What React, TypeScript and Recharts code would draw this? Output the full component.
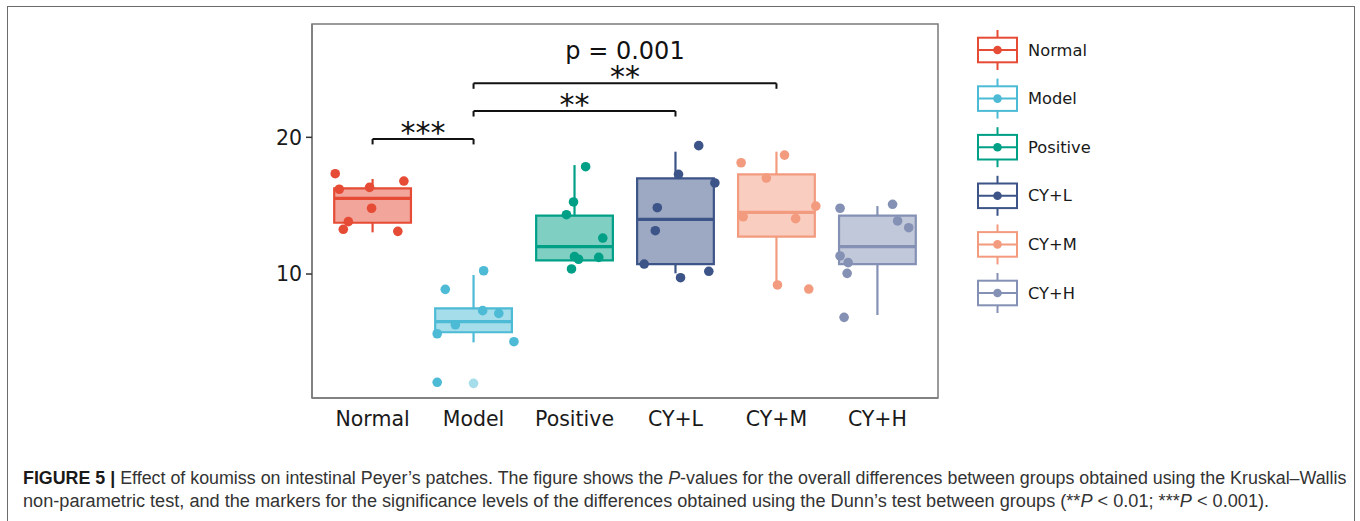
import React, { useLayoutEffect, useRef, useState } from 'react';
import { ComposedChart, XAxis, YAxis, Scatter, ReferenceArea, ReferenceLine, ReferenceDot } from 'recharts';

// ---------- data ----------
const groups = ['Normal', 'Model', 'Positive', 'CY+L', 'CY+M', 'CY+H'];
const colors = ['#E64B35', '#4DBBD5', '#00A087', '#3C5488', '#F39B7F', '#8491B4'];

const whiskerLow = [13.05, 5.0, 11.0, 10.05, 9.2, 7.0];
const q1 = [13.75, 5.74, 11.0, 10.73, 12.73, 10.73];
const medians = [15.54, 6.51, 12.0, 14.0, 14.51, 12.0];
const q3 = [16.27, 7.49, 14.27, 17.0, 17.29, 14.27];
const whiskerHigh = [16.95, 9.93, 17.97, 18.95, 18.95, 14.97];

const normalValues = [17.34, 16.2, 13.83, 13.27, 16.34, 14.81, 16.8, 13.12];
const modelValues = [10.24, 8.88, 7.32, 7.12, 6.29, 5.63, 5.05, 2.08];
const positiveValues = [17.85, 15.27, 14.34, 12.63, 11.27, 11.08, 11.22, 10.37];
const cylValues = [19.39, 17.29, 16.66, 14.85, 13.17, 10.73, 9.73, 10.2];
const cymValues = [18.14, 18.7, 17.02, 14.97, 14.19, 14.05, 9.2, 8.9];
const cyhValues = [14.81, 15.1, 13.88, 13.39, 11.32, 10.83, 10.05, 6.83];

const normalJitter = [-0.37, -0.33, -0.24, -0.29, -0.03, -0.01, 0.31, 0.25];
const modelJitter = [0.1, -0.28, 0.09, 0.25, -0.18, -0.36, 0.4, -0.36];
const positiveJitter = [0.11, -0.01, -0.08, 0.28, 0.0, 0.04, 0.24, -0.03];
const cylJitter = [0.23, 0.03, 0.39, -0.18, -0.2, -0.31, 0.05, 0.33];
const cymJitter = [-0.35, 0.08, -0.1, 0.39, -0.33, 0.19, 0.01, 0.32];
const cyhJitter = [-0.37, 0.15, 0.2, 0.31, -0.37, -0.29, -0.3, -0.33];

const groupValues = [normalValues, modelValues, positiveValues, cylValues, cymValues, cyhValues];
const groupJitter = [normalJitter, modelJitter, positiveJitter, cylJitter, cymJitter, cyhJitter];

const flierGroups = [1];
const flierValues = [2.0];

const yTicks = [10, 20];
const xDomain: [number, number] = [-0.6, 5.6];
const yDomain: [number, number] = [0.93, 28.29];

const sigFrom = [0, 1, 1];
const sigTo = [1, 3, 4];
const sigHeight = [19.88, 21.92, 23.95];
const sigLabels = ['***', '**', '**'];
const sigTickDrop = 0.4;

const pLabel = 'p = 0.001';
const pLabelX = 2.5;
const pLabelY = 25.73;

// ---------- style ----------
const FONT = '"DejaVu Sans", sans-serif';
const BOX_HALF = 0.38;
const frameColor = '#7a7a7a';

const caption1Parts = [
  { t: 'FIGURE 5 |', s: 'b' },
  { t: ' Effect of koumiss on intestinal Peyer\u2019s patches. The figure shows the ', s: 'n' },
  { t: 'P', s: 'i' },
  { t: '-values for the overall differences between groups obtained using the Kruskal\u2013Wallis', s: 'n' },
];
const caption2Parts = [
  { t: 'non-parametric test, and the markers for the significance levels of the differences obtained using the Dunn\u2019s test between groups (**', s: 'n' },
  { t: 'P', s: 'i' },
  { t: ' < 0.01; ***', s: 'n' },
  { t: 'P', s: 'i' },
  { t: ' < 0.001).', s: 'n' },
];

function renderParts(parts: { t: string; s: string }[]) {
  return parts.map((p, i) => (
    <span
      key={i}
      style={{
        fontWeight: p.s === 'b' ? 700 : 400,
        fontStyle: p.s === 'i' ? 'italic' : 'normal',
        color: p.s === 'b' ? '#1a1a1a' : '#333333',
      }}
    >
      {p.t}
    </span>
  ));
}

function FitLine({ target, top, children }: { target: number; top: number; children: React.ReactNode }) {
  const ref = useRef<HTMLDivElement>(null);
  const [scale, setScale] = useState(1);
  useLayoutEffect(() => {
    if (ref.current) {
      const w = ref.current.offsetWidth;
      if (w > 0) setScale(target / w);
    }
  }, []);
  return (
    <div
      ref={ref}
      style={{
        position: 'absolute',
        left: 22.5,
        top,
        whiteSpace: 'nowrap',
        width: 'max-content',
        fontFamily: '"Liberation Sans", Arial, sans-serif',
        fontSize: 18,
        lineHeight: '18px',
        transformOrigin: '0 0',
        transform: `scaleX(${scale})`,
      }}
    >
      {children}
    </div>
  );
}

function Caption() {
  return (
    <>
      <FitLine target={1323} top={469}>{renderParts(caption1Parts)}</FitLine>
      <FitLine target={1246} top={492}>{renderParts(caption2Parts)}</FitLine>
    </>
  );
}

function Legend() {
  const x0 = 978;
  const w = 39;
  const y0 = 50;
  const step = 48.6;
  return (
    <svg width={1360} height={521} style={{ position: 'absolute', left: 0, top: 0, pointerEvents: 'none' }}>
      {groups.map((g, i) => {
        const cy = y0 + i * step;
        const cx = x0 + w / 2;
        const c = colors[i];
        return (
          <g key={g}>
            <line x1={cx} x2={cx} y1={cy - 20} y2={cy + 20} stroke={c} strokeWidth={2} />
            <rect x={x0} y={cy - 12.3} width={w} height={24.6} fill="#fff" stroke={c} strokeWidth={2} />
            <line x1={x0} x2={x0 + w} y1={cy} y2={cy} stroke={c} strokeWidth={2} />
            <circle cx={cx} cy={cy} r={4.3} fill={c} />
            <text x={1028} y={cy} dominantBaseline="central" fontFamily={FONT} fontSize={16.3} fill="#1a1a1a">
              {g}
            </text>
          </g>
        );
      })}
    </svg>
  );
}

export default function App() {
  const scatterData = groups.map((_, gi) =>
    groupValues[gi].map((v, k) => ({ x: gi + groupJitter[gi][k], y: v }))
  );
  const flierData = flierGroups.map((g, k) => ({ x: g, y: flierValues[k], g }));

  return (
    <div style={{ position: 'absolute', left: 0, top: 0, width: 1360, height: 521, background: '#fff', overflow: 'hidden' }}>
      <div
        style={{
          position: 'absolute',
          left: 6.5,
          top: 5.5,
          width: 1348,
          height: 540,
          borderTop: '1.5px solid #6c6c6c',
          borderLeft: '1.5px solid #6c6c6c',
          borderRight: '1.5px solid #6c6c6c',
          boxSizing: 'border-box',
        }}
      />
      <div style={{ position: 'absolute', left: 0, top: 0 }}>
        <ComposedChart width={1360} height={521} margin={{ top: 24, right: 422, bottom: 93, left: 252 }}>
          <XAxis
            dataKey="x"
            type="number"
            domain={xDomain}
            ticks={[0, 1, 2, 3, 4, 5]}
            tickFormatter={(v: number) => groups[v] ?? ''}
            allowDataOverflow
            height={30}
            tickLine={false}
            tickSize={6}
            tickMargin={7}
            axisLine={{ stroke: frameColor, strokeWidth: 1.5 }}
            tick={{ fill: '#1a1a1a', fontSize: 20.5, fontFamily: FONT }}
            interval={0}
          />
          <YAxis
            dataKey="y"
            type="number"
            domain={yDomain}
            ticks={yTicks}
            allowDataOverflow
            width={60}
            tickSize={6}
            tickMargin={4}
            tickLine={{ stroke: '#333', strokeWidth: 1.5 }}
            axisLine={{ stroke: frameColor, strokeWidth: 1.5 }}
            tick={{ fill: '#1a1a1a', fontSize: 20.5, fontFamily: FONT }}
          />
          {/* plot frame */}
          <ReferenceArea
            x1={xDomain[0]}
            x2={xDomain[1]}
            y1={yDomain[0]}
            y2={yDomain[1]}
            fill="none"
            stroke={frameColor}
            strokeWidth={1.5}
            ifOverflow="visible"
          />
          {/* boxes */}
          {groups.map((g, i) => (
            <ReferenceArea
              key={'box' + g}
              x1={i - BOX_HALF}
              x2={i + BOX_HALF}
              y1={q1[i]}
              y2={q3[i]}
              fill={colors[i]}
              fillOpacity={0.5}
              stroke={colors[i]}
              strokeWidth={2.2}
              strokeOpacity={1}
              ifOverflow="visible"
            />
          ))}
          {groups.map((g, i) => (
            <ReferenceLine
              key={'wl' + g}
              segment={[{ x: i, y: whiskerLow[i] }, { x: i, y: q1[i] }]}
              stroke={colors[i]}
              strokeWidth={2.2}
              ifOverflow="visible"
            />
          ))}
          {groups.map((g, i) => (
            <ReferenceLine
              key={'wh' + g}
              segment={[{ x: i, y: q3[i] }, { x: i, y: whiskerHigh[i] }]}
              stroke={colors[i]}
              strokeWidth={2.2}
              ifOverflow="visible"
            />
          ))}
          {groups.map((g, i) => (
            <ReferenceLine
              key={'med' + g}
              segment={[{ x: i - BOX_HALF, y: medians[i] }, { x: i + BOX_HALF, y: medians[i] }]}
              stroke={colors[i]}
              strokeWidth={3.2}
              ifOverflow="visible"
            />
          ))}
          {/* significance brackets */}
          {sigFrom.map((f, k) => (
            <ReferenceLine
              key={'sigh' + k}
              segment={[{ x: f, y: sigHeight[k] }, { x: sigTo[k], y: sigHeight[k] }]}
              stroke="#111"
              strokeWidth={2}
              ifOverflow="visible"
            />
          ))}
          {sigFrom.map((f, k) => (
            <ReferenceLine
              key={'sigl' + k}
              segment={[{ x: f, y: sigHeight[k] }, { x: f, y: sigHeight[k] - sigTickDrop }]}
              stroke="#111"
              strokeWidth={2}
              ifOverflow="visible"
            />
          ))}
          {sigFrom.map((f, k) => (
            <ReferenceLine
              key={'sigr' + k}
              segment={[{ x: sigTo[k], y: sigHeight[k] }, { x: sigTo[k], y: sigHeight[k] - sigTickDrop }]}
              stroke="#111"
              strokeWidth={2}
              ifOverflow="visible"
            />
          ))}
          {sigFrom.map((f, k) => (
            <ReferenceDot
              key={'sigt' + k}
              x={(f + sigTo[k]) / 2}
              y={sigHeight[k]}
              r={0}
              ifOverflow="visible"
              shape={(p: any) => (
                <text x={p.cx} y={p.cy + 4} textAnchor="middle" fontFamily={FONT} fontSize={30} fill="#111">
                  {sigLabels[k]}
                </text>
              )}
            />
          ))}
          <ReferenceDot
            x={pLabelX}
            y={pLabelY}
            r={0}
            ifOverflow="visible"
            shape={(p: any) => (
              <text x={p.cx} y={p.cy} textAnchor="middle" fontFamily={FONT} fontSize={24} fill="#111">
                {pLabel}
              </text>
            )}
          />
          {/* points */}
          {groups.map((g, i) => (
            <Scatter
              key={'pts' + g}
              name={g}
              data={scatterData[i]}
              fill={colors[i]}
              isAnimationActive={false}
              shape={(p: any) => <circle cx={p.cx} cy={p.cy} r={4.8} fill={colors[i]} />}
            />
          ))}
          <Scatter
            name="fliers"
            data={flierData}
            isAnimationActive={false}
            shape={(p: any) => (
              <circle cx={p.cx} cy={p.cy} r={4.8} fill={colors[p.payload.g]} fillOpacity={0.5} />
            )}
          />
        </ComposedChart>
      </div>
      <Legend />
      <Caption />
    </div>
  );
}
